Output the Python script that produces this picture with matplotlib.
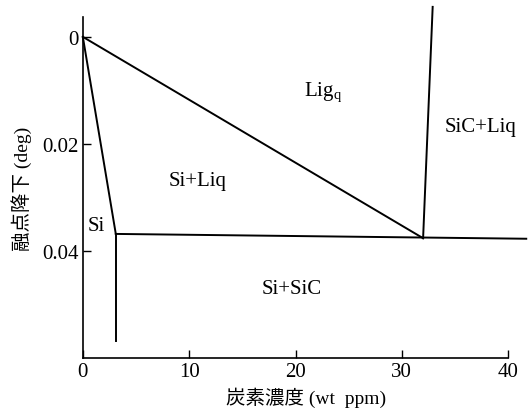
import matplotlib.pyplot as plt

# phase boundary points (carbon wt ppm, melting point depression deg)
solidus_x = [0.0, 3.1]
solidus_y = [0.0, 0.0368]
si_vert_x = [3.1, 3.1]
si_vert_y = [0.0368, 0.0568]
liquidus_x = [0.0, 32.0]
liquidus_y = [0.0, 0.0376]
eutectic_x = [3.1, 41.7]
eutectic_y = [0.0368, 0.0377]
sic_x = [32.0, 32.9]
sic_y = [0.0376, -0.0056]

labels = ["Lig$_{\\mathregular{q}}$", "SiC+Liq", "Si+Liq", "Si", "Si+SiC"]
label_x = [22.6, 37.4, 10.8, 1.3, 19.6]
label_y = [0.0103, 0.0168, 0.0269, 0.0352, 0.0470]

xticks = [0, 10, 20, 30, 40]
yticks = [0, 0.02, 0.04]
ytick_labels = ["0", "0.02", "0.04"]

serif = ["Liberation Serif", "DejaVu Serif"]
jp = ["Liberation Serif", "Noto Sans CJK JP", "DejaVu Sans"]

fig = plt.figure(figsize=(5.31, 4.10), dpi=100)
ax = fig.add_axes([0.156, 0.124, 0.801, 0.832])

lw = 1.4
for xs, ys in [(solidus_x, solidus_y), (si_vert_x, si_vert_y),
               (liquidus_x, liquidus_y), (eutectic_x, eutectic_y),
               (sic_x, sic_y)]:
    ax.plot(xs, ys, color="black", lw=lw, clip_on=False)

for t, x, y in zip(labels, label_x, label_y):
    ax.text(x, y, t, fontsize=15, family=serif, ha="center", va="center")

ax.set_xlim(0, 40)
ax.set_ylim(0.06, -0.0037)
ax.set_xticks(xticks)
ax.set_xticklabels([str(v) for v in xticks], family=serif, fontsize=15)
ax.set_yticks(yticks)
ax.set_yticklabels(ytick_labels, family=serif, fontsize=15)
ax.tick_params(direction="in", length=6, width=1, pad=3)

ax.spines["top"].set_visible(False)
ax.spines["right"].set_visible(False)
ax.spines["left"].set_linewidth(1.2)
ax.spines["bottom"].set_linewidth(1.2)

# axis titles placed as figure text so they sit where the reference has them
fig.text(0.576, 0.030, "炭素濃度 (wt  ppm)", family=jp, fontsize=14,
         ha="center", va="center")
fig.text(0.040, 0.540, "融点降下 (deg)", family=jp, fontsize=14,
         ha="center", va="center", rotation=90)

fig.savefig("out.png", dpi=100)
